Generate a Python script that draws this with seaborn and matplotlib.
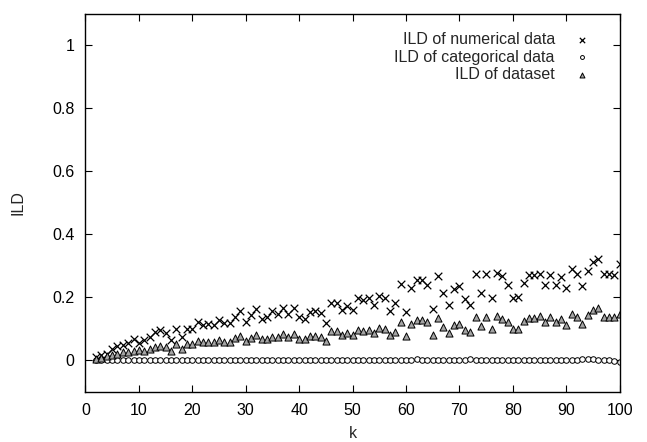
import numpy as np
import pandas as pd
import matplotlib
matplotlib.use("Agg")
import matplotlib.pyplot as plt
import seaborn as sns

# list sizes k = 2..100
k_values = list(range(2, 101))

ild_numerical = [
    0.010, 0.015, 0.021, 0.035, 0.045, 0.048, 0.055, 0.066, 0.055, 0.065,
    0.072, 0.090, 0.095, 0.085, 0.063, 0.100, 0.072, 0.100, 0.100, 0.122,
    0.113, 0.116, 0.110, 0.127, 0.118, 0.118, 0.138, 0.156, 0.122, 0.143,
    0.161, 0.129, 0.136, 0.157, 0.146, 0.166, 0.146, 0.164, 0.138, 0.132,
    0.153, 0.156, 0.151, 0.119, 0.182, 0.182, 0.159, 0.171, 0.159, 0.197,
    0.190, 0.198, 0.175, 0.204, 0.198, 0.156, 0.180, 0.243, 0.153, 0.230,
    0.254, 0.254, 0.238, 0.162, 0.268, 0.214, 0.174, 0.225, 0.236, 0.193,
    0.175, 0.273, 0.212, 0.275, 0.198, 0.277, 0.267, 0.238, 0.198, 0.201,
    0.246, 0.270, 0.270, 0.274, 0.240, 0.270, 0.238, 0.265, 0.228, 0.289,
    0.272, 0.235, 0.283, 0.312, 0.320, 0.272, 0.272, 0.270, 0.304,
]

ild_categorical = [
    0.000, 0.000, -0.001, 0.000, 0.000, 0.000, 0.000, 0.000, 0.000, 0.000,
    0.000, 0.000, 0.000, 0.000, 0.000, 0.000, 0.000, 0.000, 0.000, 0.000,
    0.000, 0.000, 0.000, 0.000, 0.000, 0.000, 0.000, 0.000, 0.000, 0.000,
    0.000, 0.000, 0.000, 0.000, 0.000, 0.000, 0.000, 0.000, 0.000, 0.000,
    0.000, 0.000, 0.000, 0.000, 0.000, 0.000, 0.000, 0.000, 0.000, 0.001,
    0.000, 0.000, 0.000, 0.000, 0.000, 0.000, 0.000, 0.000, 0.000, 0.001,
    0.002, 0.001, 0.000, 0.000, 0.001, 0.000, 0.000, 0.000, 0.000, 0.000,
    0.002, 0.001, 0.000, 0.000, 0.000, 0.001, 0.000, 0.000, 0.000, 0.000,
    0.000, 0.000, 0.000, 0.000, 0.000, 0.000, 0.000, 0.000, 0.001, 0.000,
    0.001, 0.003, 0.002, 0.003, 0.001, 0.000, 0.000, -0.002, -0.005,
]

ild_dataset = [
    0.005, 0.008, 0.012, 0.016, 0.021, 0.025, 0.026, 0.030, 0.032, 0.028,
    0.034, 0.042, 0.044, 0.042, 0.030, 0.050, 0.035, 0.050, 0.050, 0.061,
    0.056, 0.058, 0.056, 0.063, 0.058, 0.058, 0.069, 0.076, 0.061, 0.069,
    0.079, 0.066, 0.068, 0.074, 0.072, 0.083, 0.072, 0.083, 0.067, 0.067,
    0.076, 0.076, 0.074, 0.060, 0.092, 0.092, 0.079, 0.085, 0.079, 0.096,
    0.092, 0.095, 0.085, 0.102, 0.098, 0.079, 0.090, 0.122, 0.077, 0.114,
    0.127, 0.127, 0.120, 0.079, 0.134, 0.106, 0.086, 0.111, 0.116, 0.095,
    0.088, 0.138, 0.109, 0.138, 0.098, 0.140, 0.132, 0.122, 0.098, 0.100,
    0.124, 0.134, 0.134, 0.140, 0.120, 0.138, 0.120, 0.132, 0.113, 0.148,
    0.138, 0.116, 0.143, 0.159, 0.164, 0.138, 0.138, 0.138, 0.148,
]

x_ticks = list(range(0, 101, 10))
y_ticks = [0, 0.2, 0.4, 0.6, 0.8, 1.0]
y_tick_labels = ["0", "0.2", "0.4", "0.6", "0.8", "1"]

df = pd.DataFrame({
    "k": k_values,
    "num": ild_numerical,
    "cat": ild_categorical,
    "all": ild_dataset,
})

sns.set_style("ticks")
plt.rcParams['font.family'] = ['Liberation Sans', 'DejaVu Sans']

fig = plt.figure(figsize=(6.47, 4.42), dpi=100)
ax = fig.add_axes([0.132, 0.114, 0.826, 0.855])

sns.scatterplot(data=df, x="k", y="num", marker="x", color="black", s=30,
                linewidth=0.9, label="ILD of numerical data", ax=ax)
sns.scatterplot(data=df, x="k", y="cat", marker="o", facecolor="white",
                edgecolor="black", s=16, linewidth=0.7,
                label="ILD of categorical data", ax=ax)
sns.scatterplot(data=df, x="k", y="all", marker="^", facecolor="#a4a4a4",
                edgecolor="black", s=26, linewidth=0.7,
                label="ILD of dataset", ax=ax)

ax.set_xlim(0, 100)
ax.set_ylim(-0.1, 1.1)
ax.set_xticks(x_ticks)
ax.set_yticks(y_ticks)
ax.set_yticklabels(y_tick_labels)
ax.tick_params(direction="in", length=5, width=0.8, top=True, right=True,
               labelsize=11.5, colors="black", pad=8)
for sp in ax.spines.values():
    sp.set_color("black")
    sp.set_linewidth(1.0)

ax.set_xlabel("k", fontsize=11.5, labelpad=6)
ax.set_ylabel("ILD", fontsize=11.5, labelpad=19)

leg = ax.legend(loc="upper right", bbox_to_anchor=(0.944, 0.951),
                frameon=False, markerfirst=False, markerscale=0.7,
                fontsize=11.5, handletextpad=1.2, labelspacing=0.15,
                borderaxespad=0, borderpad=0, handlelength=1.0)

plt.savefig("out.png", dpi=100)
plt.close()
